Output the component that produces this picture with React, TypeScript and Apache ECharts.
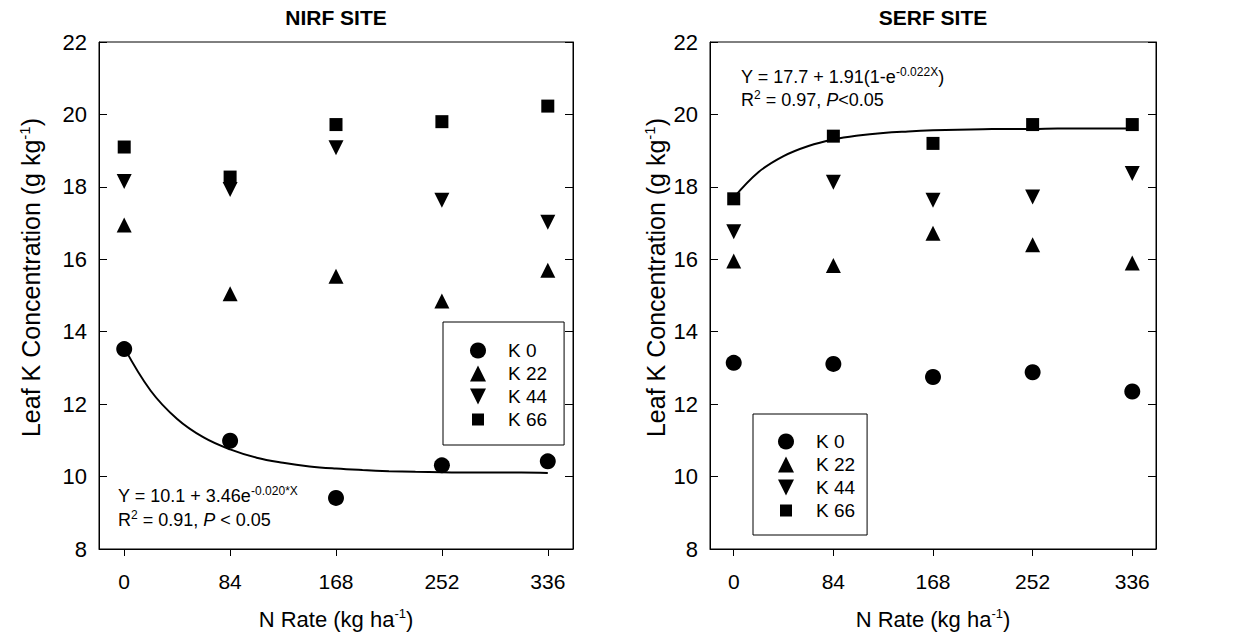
import React, { useEffect, useRef } from "react";
import * as echarts from "echarts";

// ---- data ----
const nRates = [0, 84, 168, 252, 336];
const xTickValues = [0, 84, 168, 252, 336];
const legendNames = ["K 0", "K 22", "K 44", "K 66"];

const nirfK0 = [13.52, 10.99, 9.41, 10.31, 10.42];
const nirfK22 = [16.95, 15.05, 15.53, 14.85, 15.7];
const nirfK44 = [18.15, 17.93, 19.08, 17.63, 17.02];
const nirfK66 = [19.1, 18.27, 19.72, 19.8, 20.23];

const serfK0 = [13.14, 13.11, 12.75, 12.88, 12.35];
const serfK22 = [15.95, 15.83, 16.72, 16.4, 15.9];
const serfK44 = [16.76, 18.13, 17.63, 17.72, 18.37];
const serfK66 = [17.67, 19.4, 19.2, 19.72, 19.72];

// fitted curves
const fitX = [0, 21, 42, 63, 84, 105, 126, 147, 168, 189, 210, 231, 252, 273, 294, 315, 336];
const nirfFit = [13.56, 12.37, 11.59, 11.08, 10.75, 10.52, 10.38, 10.28, 10.22, 10.18, 10.15, 10.13, 10.12, 10.11, 10.11, 10.11, 10.1];
const serfFit = [17.7, 18.41, 18.85, 19.13, 19.31, 19.42, 19.49, 19.53, 19.56, 19.58, 19.59, 19.6, 19.6, 19.61, 19.61, 19.61, 19.61];

const FONT = "'Liberation Sans', Arial, Helvetica, sans-serif";
const symbols = ["circle", "triangle", "path://M0,0 L10,0 L5,10 Z", "rect"];
const symbolSizes = [16, 15, 15, 13];

function pairs(xs: number[], ys: number[]) {
  return xs.map((x, i) => [x, ys[i]]);
}

function scatterSeries(gi: number, sets: number[][]) {
  return sets.map((vals, k) => ({
    type: "scatter",
    name: legendNames[k],
    xAxisIndex: gi,
    yAxisIndex: gi * 2,
    symbol: symbols[k],
    symbolSize: symbolSizes[k],
    itemStyle: { color: "#000", opacity: 1 },
    data: pairs(nRates, vals),
    z: 3,
  }));
}

function xAxisFor(gi: number) {
  return {
    type: "value",
    gridIndex: gi,
    min: -20,
    max: 356,
    axisLine: { show: true, onZero: false, lineStyle: { color: "#000", width: 1 } },
    axisTick: { show: true, inside: false, length: 7, customValues: xTickValues, lineStyle: { color: "#000" } },
    axisLabel: { show: true, customValues: xTickValues, fontSize: 21, color: "#000", fontFamily: FONT, margin: 22 },
    splitLine: { show: false },
    name: "N Rate (kg ha{s|-1})",
    nameLocation: "middle",
    nameGap: 58,
    nameTextStyle: {
      fontSize: 22,
      color: "#000",
      fontFamily: FONT,
      lineHeight: 24,
      rich: { s: { fontSize: 13, lineHeight: 13, verticalAlign: "top", color: "#000", fontFamily: FONT } },
    },
  };
}

function yAxesFor(gi: number, nameGap: number) {
  return [
    {
      type: "value",
      gridIndex: gi,
      position: "left",
      min: 8,
      max: 22,
      interval: 2,
      axisLine: { show: true, onZero: false, lineStyle: { color: "#000", width: 1 } },
      axisTick: { show: true, inside: true, length: 8, lineStyle: { color: "#000" } },
      axisLabel: { fontSize: 22, color: "#000", fontFamily: FONT, margin: 12 },
      splitLine: { show: false },
      name: "Leaf K Concentration (g kg{s|-1})",
      nameLocation: "middle",
      nameRotate: 90,
      nameGap,
      nameTextStyle: {
        fontSize: 25,
        color: "#000",
        fontFamily: FONT,
        lineHeight: 28,
        padding: [0, 0, 0, 36],
        rich: { s: { fontSize: 15, lineHeight: 15, verticalAlign: "top", color: "#000", fontFamily: FONT } },
      },
    },
    {
      type: "value",
      gridIndex: gi,
      position: "right",
      min: 8,
      max: 22,
      interval: 2,
      axisLine: { show: true, onZero: false, lineStyle: { color: "#000", width: 1 } },
      axisTick: { show: true, inside: true, length: 8, lineStyle: { color: "#000" } },
      axisLabel: { show: false },
      splitLine: { show: false },
    },
  ];
}

const smallSquare = "path://M0,0 M16,16 M2,2 L14,2 L14,14 L2,14 Z";

function legendFor(left: number, top: number, padding: number[]) {
  return {
    orient: "vertical",
    left,
    top,
    data: [
      { name: legendNames[0] },
      { name: legendNames[1] },
      { name: legendNames[2] },
      { name: legendNames[3], icon: smallSquare },
    ],
    selectedMode: false,
    itemWidth: 16,
    itemHeight: 16,
    itemGap: 4,
    padding,
    borderColor: "#000",
    borderWidth: 1,
    borderRadius: 0,
    backgroundColor: "#fff",
    itemStyle: { opacity: 1 },
    textStyle: { fontSize: 19, lineHeight: 16, color: "#000", fontFamily: FONT, padding: [0, 0, 0, 17] },
  };
}

const eqRich = {
  n: { fontSize: 18, lineHeight: 22, fontFamily: FONT, color: "#000" },
  i: { fontSize: 18, lineHeight: 22, fontStyle: "italic", fontFamily: FONT, color: "#000" },
  s: { fontSize: 12, lineHeight: 12, verticalAlign: "top", fontFamily: FONT, color: "#000" },
};

function eqText(x: number, y: number, text: string) {
  return {
    type: "text",
    x,
    y,
    style: {
      text,
      rich: eqRich,
      fontSize: 18,
      fontFamily: FONT,
      fill: "#000",
      verticalAlign: "middle",
      align: "left",
    },
    z: 10,
  };
}

export default function App() {
  const ref = useRef<HTMLDivElement>(null);
  useEffect(() => {
    if (!ref.current) return;
    const chart = echarts.init(ref.current, null, { renderer: "svg" });
    const option: any = {
      animation: false,
      backgroundColor: "#fff",
      grid: [
        { left: 99, top: 42, width: 474, height: 507, show: true, borderColor: "#000", borderWidth: 1, backgroundColor: "transparent" },
        { left: 710, top: 42, width: 446, height: 507, show: true, borderColor: "#000", borderWidth: 1, backgroundColor: "transparent" },
      ],
      xAxis: [xAxisFor(0), xAxisFor(1)],
      yAxis: [...yAxesFor(0, 54), ...yAxesFor(1, 40)],
      legend: [legendFor(443, 322, [19, 17, 16, 27]), legendFor(753, 414, [18, 12, 15, 25])],
      series: [
        ...scatterSeries(0, [nirfK0, nirfK22, nirfK44, nirfK66]),
        ...scatterSeries(1, [serfK0, serfK22, serfK44, serfK66]),
        {
          type: "line",
          name: "NIRF fit",
          xAxisIndex: 0,
          yAxisIndex: 0,
          data: pairs(fitX, nirfFit),
          smooth: 0.4,
          showSymbol: false,
          lineStyle: { color: "#000", width: 2 },
          z: 2,
        },
        {
          type: "line",
          name: "SERF fit",
          xAxisIndex: 1,
          yAxisIndex: 2,
          data: pairs(fitX, serfFit),
          smooth: 0.4,
          showSymbol: false,
          lineStyle: { color: "#000", width: 2 },
          z: 2,
        },
      ],
      graphic: [
        {
          type: "text",
          x: 336,
          y: 17,
          style: { text: "NIRF SITE", fontSize: 21, fontWeight: "bold", fontFamily: FONT, fill: "#000", align: "center", verticalAlign: "middle" },
        },
        {
          type: "text",
          x: 933,
          y: 17,
          style: { text: "SERF SITE", fontSize: 21, fontWeight: "bold", fontFamily: FONT, fill: "#000", align: "center", verticalAlign: "middle" },
        },
        eqText(118, 496, "{n|Y = 10.1 + 3.46e}{s|-0.020*X}"),
        eqText(118, 520, "{n|R}{s|2}{n| = 0.91, }{i|P}{n| < 0.05}"),
        eqText(741, 77, "{n|Y = 17.7 + 1.91(1-e}{s|-0.022X}{n|)}"),
        eqText(741, 100, "{n|R}{s|2}{n| = 0.97, }{i|P}{n|<0.05}"),
      ],
    };
    chart.setOption(option);
    return () => chart.dispose();
  }, []);
  return <div ref={ref} style={{ position: "absolute", left: 0, top: 0, width: 1235, height: 638 }} />;
}
